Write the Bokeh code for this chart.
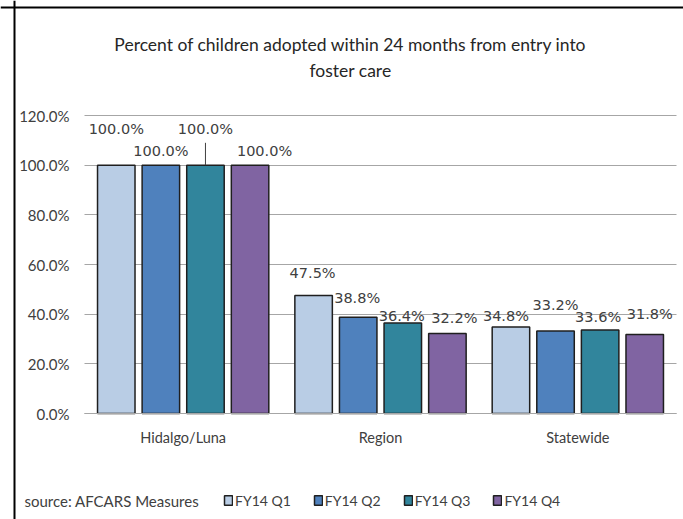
import numpy as np
from bokeh.plotting import figure
from bokeh.models import (Range1d, ColumnDataSource, Legend, LegendItem, Label, Span,
                          FixedTicker, PrintfTickFormatter)
from bokeh.core.properties import value
from bokeh.embed import file_html
from bokeh.resources import INLINE

# ---- data ----
categories = ["Hidalgo/Luna", "Region", "Statewide"]
quarters = ["FY14 Q1", "FY14 Q2", "FY14 Q3", "FY14 Q4"]
q1 = [100.0, 47.5, 34.8]
q2 = [100.0, 38.8, 33.2]
q3 = [100.0, 36.4, 33.6]
q4 = [100.0, 32.2, 31.8]
y_ticks = [0, 20, 40, 60, 80, 100, 120]
title_lines = ["Percent of children adopted within 24 months from entry into", "foster care"]
source_note = "source:  AFCARS Measures"

# ---- layout / style ----
colors = ["#B9CDE5", "#4F81BD", "#31859C", "#8064A2"]
offsets = [-0.339, -0.113, 0.113, 0.339]
bar_width = 0.19
# data label positions (y in axis units, x nudge in px) as placed in the reference
label_y = [[114.4, 56.4, 39.1], [105.9, 46.7, 43.5], [114.4, 39.1, 38.7], [105.9, 38.3, 39.9]]
label_dx = [[0, -1, -5], [0, -1, 0], [0, -1, -2], [14.5, 7, 5]]

W, H = 683, 519
# plotting area (canvas px): left 84, right 676, 120% at 115, 0% at 413
PL, PR, PT, PB = 84, 676, 115, 413
px_per_cat = (PR - PL) / 3.0
px_per_pct = (PB - PT) / 120.0
x_start = -PL / px_per_cat
x_end = 3.0 + (W - PR) / px_per_cat
y_end = 120 + PT / px_per_pct
y_start = -(H - PB) / px_per_pct


def dx(px):
    return (px - PL) / px_per_cat


def dy(py):
    return (PB - py) / px_per_pct


series = [q1, q2, q3, q4]
cat_x = np.arange(len(categories)) + 0.5

p = figure(x_range=Range1d(x_start, x_end), y_range=Range1d(y_start, y_end),
           width=W, height=H, output_backend="svg", toolbar_location=None,
           min_border_left=0, min_border_right=0, min_border_top=0, min_border_bottom=0)
p.outline_line_color = None
p.background_fill_color = "white"
p.border_fill_color = "white"
p.title.visible = False

p.xgrid.grid_line_color = None
p.ygrid.grid_line_color = "#A6A6A6"
p.ygrid.grid_line_width = 1
p.ygrid.cross_bounds = (0, 3)

p.yaxis.fixed_location = 0
p.yaxis.ticker = FixedTicker(ticks=y_ticks)
p.yaxis.formatter = PrintfTickFormatter(format="%.1f%%")
p.yaxis.axis_line_color = None
p.yaxis.major_tick_line_color = None
p.yaxis.minor_tick_line_color = None
p.yaxis.major_label_standoff = 9
p.yaxis.major_label_text_font = "Lato"
p.yaxis.major_label_text_font_size = "15px"
p.yaxis.major_label_text_color = "#404040"

p.xaxis.fixed_location = 0
p.xaxis.bounds = (0, 3)
p.xaxis.ticker = FixedTicker(ticks=list(cat_x))
p.xaxis.major_label_overrides = {float(x): c for x, c in zip(cat_x, categories)}
p.xaxis.axis_line_color = "#A6A6A6"
p.xaxis.major_tick_line_color = None
p.xaxis.minor_tick_line_color = None
p.xaxis.major_label_standoff = 9
p.xaxis.major_label_text_font = "Lato"
p.xaxis.major_label_text_font_size = "14.5px"
p.xaxis.major_label_text_color = "#404040"

items = []
for i, (vals, name) in enumerate(zip(series, quarters)):
    src = ColumnDataSource(dict(x=cat_x + offsets[i], val=vals,
                                txt=["%.1f%%" % v for v in vals],
                                ly=label_y[i], dx=label_dx[i]))
    r = p.vbar(x="x", top="val", width=bar_width, source=src,
               fill_color=colors[i], line_color="#1F1F1F", line_width=1.5)
    p.text(x="x", y="ly", text="txt", x_offset="dx", source=src,
           text_align="center", text_baseline="middle",
           text_font=value("DejaVu Sans"), text_font_size="14.5px", text_color="#404040")
    items.append(LegendItem(label=name, renderers=[r]))

# leader line for the Hidalgo/Luna Q3 label
lead = ColumnDataSource(dict(x=[cat_x[0] + offsets[2]], y0=[q3[0]], y1=[109.0]))
p.segment(x0="x", x1="x", y0="y0", y1="y1", source=lead, line_color="#404040", line_width=1)

# chart frame border (left and top edges visible)
p.add_layout(Span(location=dx(14), dimension="height", line_color="black", line_width=2))
p.add_layout(Span(location=dy(7), dimension="width", line_color="black", line_width=2))

# title
p.add_layout(Label(x=dx(350), y=dy(44), text=title_lines[0],
                   text_align="center", text_baseline="middle",
                   text_font="Lato", text_font_size="17.5px", text_color="#262626"))
p.add_layout(Label(x=dx(350), y=dy(70), text=title_lines[1],
                   text_align="center", text_baseline="middle",
                   text_font="Lato", text_font_size="17.5px", text_color="#262626"))

# source note
p.add_layout(Label(x=dx(24), y=dy(500), text=source_note,
                   text_align="left", text_baseline="middle",
                   text_font="Lato", text_font_size="15px", text_color="#404040"))

legend = Legend(items=items, orientation="horizontal", location=(223, H - 490 - 20),
                glyph_width=10, glyph_height=12, label_standoff=2, spacing=22,
                label_height=20, padding=0, margin=0, border_line_color=None,
                background_fill_alpha=0,
                label_text_font="Lato", label_text_font_size="14px", label_text_color="#404040")
p.add_layout(legend, "center")

open("out.html", "w").write(file_html(p, INLINE))
